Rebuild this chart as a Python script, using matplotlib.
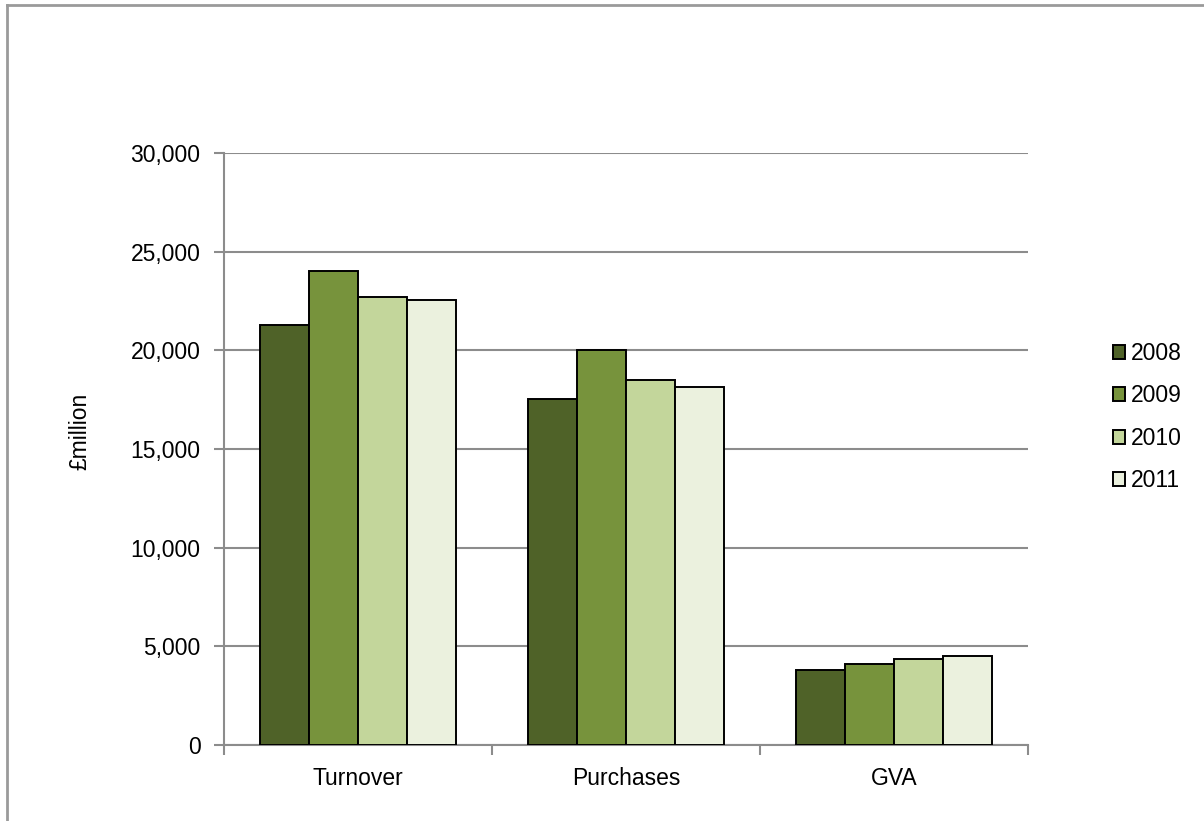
import numpy as np
import matplotlib
matplotlib.use("Agg")
import matplotlib.pyplot as plt
from matplotlib.lines import Line2D
from matplotlib.ticker import FuncFormatter

plt.rcParams["font.family"] = ["Liberation Sans", "DejaVu Sans"]

categories = ["Turnover", "Purchases", "GVA"]
years = ["2008", "2009", "2010", "2011"]
values = {
    "2008": [21300, 17550, 3800],
    "2009": [24000, 20000, 4120],
    "2010": [22720, 18500, 4360],
    "2011": [22570, 18120, 4490],
}
colors = ["#4F6228", "#77933C", "#C3D69B", "#EBF1DE"]
y_ticks = [0, 5000, 10000, 15000, 20000, 25000, 30000]

W, H = 1204, 821
fig = plt.figure(figsize=(W / 100, H / 100), dpi=100)
ax = fig.add_axes([224 / W, 1 - 745 / H, (1028 - 224) / W, (745 - 153) / H])

grey = "#8C8C8C"
fs = 16.5

x = np.arange(len(categories))
bar_w = 0.183
for i, (yr, col) in enumerate(zip(years, colors)):
    ax.bar(x + (i - 1.5) * bar_w, values[yr], width=bar_w, color=col,
           edgecolor="black", linewidth=1.4, label=yr, zorder=3)

ax.set_xlim(-0.5, len(categories) - 0.5)
ax.set_ylim(0, 30000)
ax.set_yticks(y_ticks)
ax.yaxis.set_major_formatter(FuncFormatter(lambda v, _: f"{int(v):,}"))
ax.set_xticks(x)
ax.set_xticklabels(categories)
ax.set_xticks(np.arange(len(categories) + 1) - 0.5, minor=True)
ax.tick_params(axis="x", which="major", length=0, pad=16, labelsize=fs)
ax.tick_params(axis="x", which="minor", length=7, width=1.5, color=grey)
ax.tick_params(axis="y", length=7, width=1.5, color=grey, pad=10, labelsize=fs)

ax.grid(axis="y", color=grey, linewidth=1.5, zorder=0)
for side in ["top", "right"]:
    ax.spines[side].set_visible(False)
for side in ["left", "bottom"]:
    ax.spines[side].set_color(grey)
    ax.spines[side].set_linewidth(1.5)
ax.spines["left"].set_zorder(4)

fig.text(80 / W, 1 - 431 / H, "£million", rotation=90, ha="center", va="center",
         fontsize=fs)

handles, labels = ax.get_legend_handles_labels()
leg = fig.legend(handles, labels, loc="center left",
                 bbox_to_anchor=(1092 / W, 1 - 417 / H), frameon=False,
                 fontsize=fs, handlelength=0.55, handleheight=0.55,
                 handletextpad=0.25, labelspacing=0.85)

# chart area border
fig.add_artist(Line2D([7 / W, 7 / W], [0, 1 - 5 / H], color="#9A9A9A",
                      linewidth=2, transform=fig.transFigure))
fig.add_artist(Line2D([7 / W, 1], [1 - 5 / H, 1 - 5 / H], color="#9A9A9A",
                      linewidth=2, transform=fig.transFigure))

fig.savefig("out.png", dpi=100)
